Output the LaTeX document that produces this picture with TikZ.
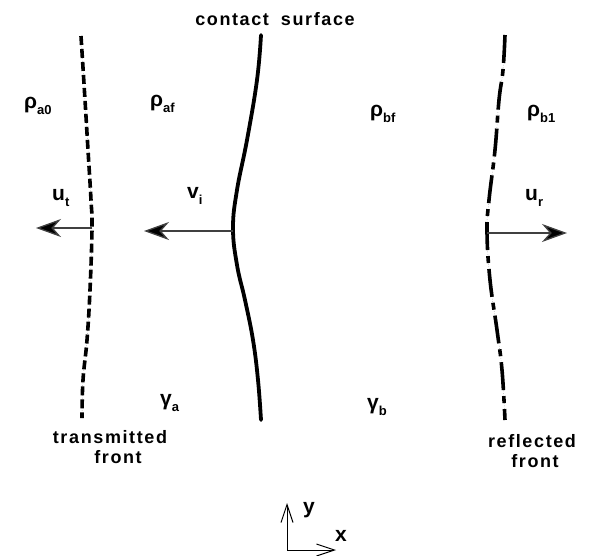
\documentclass[tikz,border=0pt]{standalone}
\usepackage{fontspec}
\setmainfont{Liberation Sans}
\usetikzlibrary{arrows.meta}
\newcommand{\lblsub}[2]{#1\raisebox{-6pt}{\fontsize{13}{14}\selectfont #2}}
\tikzset{
  lab/.style={inner sep=0pt, anchor=base west, font=\bfseries\fontsize{21}{23}\selectfont},
  captxt/.style={inner sep=0pt, anchor=base, font=\bfseries\fontsize{18}{20}\selectfont\addfontfeatures{LetterSpace=9}},
  contactline/.style={line width=3.8pt, line cap=round},
  thinunder/.style={line width=0.5pt, gray, dotted},
  transline/.style={line width=3.6pt, dash pattern=on 9pt off 4pt},
  reflline/.style={line width=3.6pt, dash pattern=on 28pt off 6pt on 7pt off 6pt},
  velarrow/.style={line width=1.3pt, draw=black!75, -{Stealth[length=25pt,width=18pt,inset=8pt,fill=black]}},
  axisarrow/.style={line width=1pt, -{Straight Barb[length=18pt,width=12pt]}}
}
\begin{document}
\begin{tikzpicture}[x=1pt,y=-1pt]
\useasboundingbox[fill=white] (0,0) rectangle (592,555);

% contact surface
\draw[contactline] plot[smooth, tension=0.7] coordinates {(261,35) (257,80) (247,140) (237,190) (233,228) (237,265) (245,300) (253,340) (258,380) (261,420)};
\coordinate (vi0) at (233,231);
\coordinate (vi1) at (144,231);

% transmitted front
\draw[thinunder] plot[smooth, tension=0.7] coordinates {(81,36) (85,100) (88,150) (91,200) (92,228) (90,290) (87,340) (83,380) (82,418)};
\draw[transline] plot[smooth, tension=0.7] coordinates {(81,36) (85,100) (88,150) (91,200) (92,228) (90,290) (87,340) (83,380) (82,418)};
\coordinate (ut0) at (92,228);
\coordinate (ut1) at (36,228);

% reflected front
\draw[thinunder] plot[smooth, tension=0.7] coordinates {(505,35) (503,70) (499,100) (495,150) (489,200) (487,232) (490,280) (497,330) (502,370) (505,420)};
\draw[reflline] plot[smooth, tension=0.7] coordinates {(505,35) (503,70) (499,100) (495,150) (489,200) (487,232) (490,280) (497,330) (502,370) (505,420)};
\coordinate (ur0) at (487,233);
\coordinate (ur1) at (567,233);

% velocity arrows
\draw[velarrow] (ut0) -- (ut1);
\draw[velarrow] (vi0) -- (vi1);
\draw[velarrow] (ur0) -- (ur1);

% labels
\node[captxt] (cs) at (275,25) {contact\hspace{12pt}surface};
\node[lab] (ra0) at (24,108) {\lblsub{ρ}{a0}};
\node[lab] (raf) at (150,106) {\lblsub{ρ}{af}};
\node[lab] (rbf) at (370,116) {\lblsub{ρ}{bf}};
\node[lab] (rb1) at (527,116) {\lblsub{ρ}{b1}};
\node[lab] (lut) at (52,200) {\lblsub{u}{t}};
\node[lab] (lvi) at (187,198) {\lblsub{v}{i}};
\node[lab] (lur) at (525,200) {\lblsub{u}{r}};
\node[lab] (ga) at (160,405) {\lblsub{γ}{a}};
\node[lab] (gb) at (367,409) {\lblsub{γ}{b}};
\node[captxt] (tr1) at (110,443) {transmitted};
\node[captxt] (tr2) at (118,463) {front};
\node[captxt] (rf1) at (532,447) {reflected};
\node[captxt] (rf2) at (535,467) {front};

% axes
\coordinate (o) at (287,550);
\coordinate (ay) at (287,503);
\coordinate (ax) at (336,550);
\draw[axisarrow] (o) -- (ay);
\draw[axisarrow] (o) -- (ax);
\node[lab, anchor=center] (ylab) at (309,510) {y};
\node[lab, anchor=center] (xlab) at (341,536) {x};
\end{tikzpicture}
\end{document}
